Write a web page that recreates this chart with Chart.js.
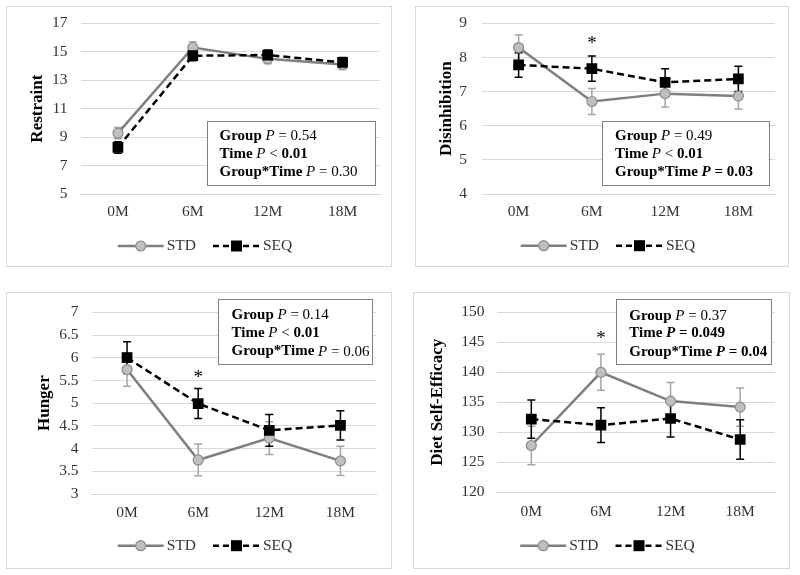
<!DOCTYPE html>
<html><head><meta charset="utf-8">
<script src="https://cdn.jsdelivr.net/npm/chart.js@4.4.0/dist/chart.umd.min.js"></script>
<style>
html,body{margin:0;padding:0;background:#fff;width:800px;height:575px;overflow:hidden;position:relative;}
.frame{position:absolute;box-sizing:border-box;border:1px solid #d9d9d9;}
canvas{position:absolute;}
</style></head><body>
<div class="frame" style="left:6px;top:6px;width:386px;height:261px"></div>
<canvas id="c1" width="386" height="261" style="left:6px;top:6px"></canvas>
<div class="frame" style="left:415px;top:6px;width:374px;height:261px"></div>
<canvas id="c2" width="374" height="261" style="left:415px;top:6px"></canvas>
<div class="frame" style="left:6px;top:292px;width:386px;height:277px"></div>
<canvas id="c3" width="386" height="277" style="left:6px;top:292px"></canvas>
<div class="frame" style="left:413px;top:292px;width:377px;height:277px"></div>
<canvas id="c4" width="377" height="277" style="left:413px;top:292px"></canvas>
<script>
// ---- data ----
const timepoints = ['0M', '6M', '12M', '18M'];
const seriesNames = ['STD', 'SEQ'];

const restraintSTD = [9.28, 15.3, 14.5, 14.1];
const restraintSTDErr = [0.4, 0.4, 0.35, 0.35];
const restraintSEQ = [8.27, 14.72, 14.77, 14.25];
const restraintSEQErr = [0.4, 0.35, 0.35, 0.35];

const disinhibitionSTD = [8.29, 6.71, 6.94, 6.87];
const disinhibitionSTDErr = [0.37, 0.38, 0.39, 0.38];
const disinhibitionSEQ = [7.78, 7.67, 7.27, 7.37];
const disinhibitionSEQErr = [0.36, 0.37, 0.4, 0.37];
const disinhibitionStar = [null, 8.54, null, null];

const hungerSTD = [5.74, 3.75, 4.23, 3.73];
const hungerSTDErr = [0.37, 0.35, 0.36, 0.32];
const hungerSEQ = [6.0, 4.99, 4.40, 4.51];
const hungerSEQErr = [0.35, 0.33, 0.35, 0.32];
const hungerStar = [null, 5.66, null, null];

const efficacySTD = [127.8, 140.0, 135.2, 134.2];
const efficacySTDErr = [3.2, 3.0, 3.1, 3.2];
const efficacySEQ = [132.2, 131.2, 132.3, 128.8];
const efficacySEQErr = [3.2, 2.9, 3.1, 3.3];
const efficacyStar = [null, 146.4, null, null];

// y-axis ranges [min, max, step]
const restraintAxis = [5, 17, 2];
const disinhibitionAxis = [4, 9, 1];
const hungerAxis = [3, 7, 0.5];
const efficacyAxis = [120, 150, 5];

// ---- styling ----
const SERIF = "'Liberation Serif','Times New Roman',serif";
Chart.defaults.font.family = SERIF;
const TICK = '#333333';
const STD_LINE = '#7f7f7f', STD_FILL = '#bfbfbf', STD_EDGE = '#8c8c8c', STD_ERR = '#a6a6a6';

const errorBarPlugin = {
  id: 'errorBars',
  beforeDatasetsDraw(chart, args, opts) {
    const ctx = chart.ctx, ys = chart.scales.y;
    ctx.save();
    chart.data.datasets.forEach((ds, di) => {
      const errs = opts.errors[di];
      const meta = chart.getDatasetMeta(di);
      ctx.strokeStyle = opts.colors[di];
      ctx.lineWidth = 1.5;
      meta.data.forEach((pt, i) => {
        const v = ds.data[i], e = errs[i];
        const x = pt.x, y1 = ys.getPixelForValue(v + e), y2 = ys.getPixelForValue(v - e);
        ctx.beginPath();
        ctx.moveTo(x, y1); ctx.lineTo(x, y2);
        ctx.moveTo(x - 4, y1); ctx.lineTo(x + 4, y1);
        ctx.moveTo(x - 4, y2); ctx.lineTo(x + 4, y2);
        ctx.stroke();
      });
    });
    ctx.restore();
  }
};

const decorPlugin = {
  id: 'decor',
  afterDraw(chart, args, opts) {
    const ctx = chart.ctx;
    ctx.save();
    // significance stars
    if (opts.star) {
      const xs = chart.scales.x, ys = chart.scales.y;
      ctx.fillStyle = '#000';
      ctx.font = '19px ' + SERIF;
      ctx.textAlign = 'center';
      ctx.textBaseline = 'alphabetic';
      opts.star.forEach((v, i) => {
        if (v == null) return;
        ctx.fillText('*', xs.getPixelForValue(i), ys.getPixelForValue(v) + 10);
      });
    }
    // statistics box
    const b = opts.box;
    ctx.fillStyle = '#fff';
    ctx.fillRect(b.x, b.y, b.w, b.h);
    ctx.strokeStyle = '#7f7f7f';
    ctx.lineWidth = 1;
    ctx.strokeRect(Math.round(b.x) + 0.5, Math.round(b.y) + 0.5, Math.round(b.w), Math.round(b.h));
    ctx.fillStyle = '#000';
    ctx.textAlign = 'left';
    ctx.textBaseline = 'middle';
    opts.lines.forEach((segs, li) => {
      let x = b.tx;
      segs.forEach(([t, st]) => {
        const bold = st.includes('b') ? 'bold ' : '';
        const ital = st.includes('i') ? 'italic ' : '';
        ctx.font = ital + bold + '15px ' + SERIF;
        ctx.fillText(t, x, b.ly[li]);
        x += ctx.measureText(t).width;
      });
    });
    // legend
    const lg = opts.legend;
    ctx.font = '15.5px ' + SERIF;
    const names = chart.data.datasets.map(d => d.label);
    const wT = names.map(n => ctx.measureText(n).width);
    const total = 46 + 3 + wT[0] + 17 + 47 + 3 + wT[1];
    let x0 = chart.width / 2 - total / 2 + 6;
    const y = lg.y;
    // STD
    ctx.strokeStyle = STD_LINE; ctx.lineWidth = 2.5; ctx.setLineDash([]);
    ctx.beginPath(); ctx.moveTo(x0, y); ctx.lineTo(x0 + 46, y); ctx.stroke();
    ctx.beginPath(); ctx.arc(x0 + 23, y, 5, 0, Math.PI * 2);
    ctx.fillStyle = STD_FILL; ctx.fill();
    ctx.strokeStyle = STD_EDGE; ctx.lineWidth = 1.2; ctx.stroke();
    ctx.fillStyle = TICK; ctx.textBaseline = 'middle'; ctx.textAlign = 'left';
    ctx.fillText(names[0], x0 + 49, y);
    x0 += 46 + 3 + wT[0] + 17;
    // SEQ
    ctx.strokeStyle = '#000'; ctx.lineWidth = 2.5; ctx.setLineDash([6, 4]);
    ctx.beginPath(); ctx.moveTo(x0, y); ctx.lineTo(x0 + 47, y); ctx.stroke();
    ctx.setLineDash([]);
    ctx.fillStyle = '#000';
    ctx.fillRect(x0 + 23.5 - 5.5, y - 5.5, 11, 11);
    ctx.fillStyle = TICK;
    ctx.fillText(names[1], x0 + 50, y);
    ctx.restore();
  }
};

function makeChart(id, c) {
  const [ymin, ymax, ystep] = c.axis;
  new Chart(document.getElementById(id), {
    type: 'line',
    data: {
      labels: timepoints,
      datasets: [
        { label: seriesNames[0], data: c.std, borderColor: STD_LINE, borderWidth: 2.5, tension: 0,
          pointStyle: 'circle', pointRadius: 5, pointBackgroundColor: STD_FILL, pointBorderColor: STD_EDGE,
          pointBorderWidth: 1.2, order: 2 },
        { label: seriesNames[1], data: c.seq, borderColor: '#000', borderWidth: 2.5, borderDash: [7, 4], tension: 0,
          pointStyle: 'rect', pointRadius: 7.6, pointBackgroundColor: '#000', pointBorderColor: '#000',
          pointBorderWidth: 0, order: 1 }
      ]
    },
    options: {
      responsive: false, animation: false, devicePixelRatio: 1,
      layout: { padding: c.pad },
      events: [],
      plugins: {
        legend: { display: false }, tooltip: { enabled: false },
        errorBars: { errors: [c.stdErr, c.seqErr], colors: [STD_ERR, '#000'] },
        decor: { star: c.star, box: c.box, lines: c.lines, legend: c.legend }
      },
      scales: {
        x: {
          offset: true,
          grid: { display: false, drawTicks: false },
          border: { display: true, color: '#d9d9d9', width: 1 },
          ticks: { padding: c.xpad, color: TICK, font: { size: 15.5 }, maxRotation: 0 },
          afterFit(s) { s.height = 30; s.paddingLeft = 0; s.paddingRight = 0; }
        },
        y: {
          min: ymin, max: ymax,
          ticks: { stepSize: ystep, padding: c.ypad, color: TICK, font: { size: 15.5 },
                   callback: v => String(+v.toFixed(2)) },
          grid: { color: '#d9d9d9', lineWidth: 1, drawTicks: false },
          border: { display: false },
          title: { display: true, text: c.title, color: '#000', font: { size: 17, weight: 'bold' },
                   padding: { top: c.titlePad, bottom: 0 } },
          afterFit(s) { s.width = c.yw; s.paddingTop = 0; s.paddingBottom = 0; }
        }
      }
    },
    plugins: [errorBarPlugin, decorPlugin]
  });
}

const L_GROUP = p => [['Group ', 'b'], ['P', 'i'], [' = ' + p, 'r']];
const L_TIME_LT = [['Time ', 'b'], ['P', 'i'], [' < ', 'r'], ['0.01', 'b']];

makeChart('c1', {
  std: restraintSTD, stdErr: restraintSTDErr, seq: restraintSEQ, seqErr: restraintSEQErr,
  axis: restraintAxis, title: 'Restraint', star: null,
  pad: { left: 0, top: 17.3, right: 12, bottom: 43 }, yw: 74.5, ypad: 13, xpad: 8.7, titlePad: 21.8,
  box: { x: 200.7, y: 114.7, w: 168.3, h: 64.3, tx: 213.5, ly: [130, 148.2, 166.4] },
  lines: [L_GROUP('0.54'), L_TIME_LT, [['Group*Time ', 'b'], ['P', 'i'], [' = 0.30', 'r']]],
  legend: { y: 240 }
});

makeChart('c2', {
  std: disinhibitionSTD, stdErr: disinhibitionSTDErr, seq: disinhibitionSEQ, seqErr: disinhibitionSEQErr,
  axis: disinhibitionAxis, title: 'Disinhibition', star: disinhibitionStar,
  pad: { left: 0, top: 17.3, right: 14, bottom: 43 }, yw: 67, ypad: 15, xpad: 8.7, titlePad: 21.8,
  box: { x: 186.7, y: 114.7, w: 166.6, h: 64.3, tx: 200, ly: [130, 148.3, 166.6] },
  lines: [L_GROUP('0.49'), L_TIME_LT, [['Group*Time ', 'b'], ['P', 'bi'], [' = 0.03', 'b']]],
  legend: { y: 239.7 }
});

makeChart('c3', {
  std: hungerSTD, stdErr: hungerSTDErr, seq: hungerSEQ, seqErr: hungerSEQErr,
  axis: hungerAxis, title: 'Hunger', star: hungerStar,
  pad: { left: 0, top: 20.3, right: 16, bottom: 45 }, yw: 85.5, ypad: 13, xpad: 9.7, titlePad: 28.8,
  box: { x: 212, y: 7, w: 154, h: 65, tx: 225.5, ly: [23.2, 41.4, 59.6] },
  lines: [L_GROUP('0.14'), L_TIME_LT, [['Group*Time ', 'b'], ['P', 'i'], [' = 0.06', 'r']]],
  legend: { y: 253.7 }
});

makeChart('c4', {
  std: efficacySTD, stdErr: efficacySTDErr, seq: efficacySEQ, seqErr: efficacySEQErr,
  axis: efficacyAxis, title: 'Diet Self-Efficacy', star: efficacyStar,
  pad: { left: 0, top: 20.3, right: 15, bottom: 46.7 }, yw: 83.5, ypad: 12, xpad: 10.7, titlePad: 14.1,
  box: { x: 203, y: 7, w: 155, h: 65, tx: 216.3, ly: [23.7, 41.5, 59.7] },
  lines: [L_GROUP('0.37'), [['Time ', 'b'], ['P', 'bi'], [' = 0.049', 'b']],
          [['Group*Time ', 'b'], ['P', 'bi'], [' = 0.04', 'b']]],
  legend: { y: 253.7 }
});
</script>
</body></html>
